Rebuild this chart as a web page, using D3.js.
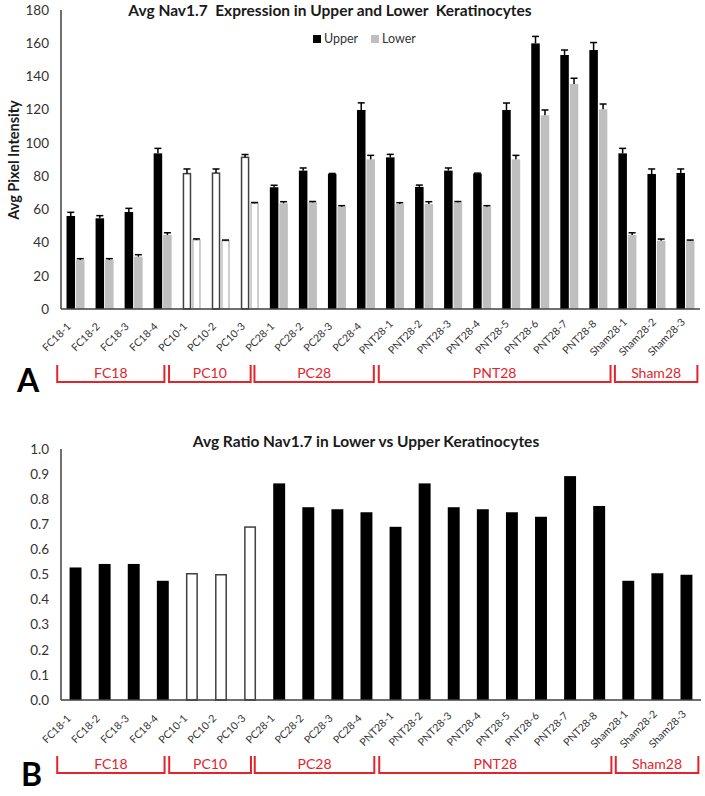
<!DOCTYPE html>
<html>
<head>
<meta charset="utf-8">
<script src="https://cdn.jsdelivr.net/npm/d3@7"></script>
<style>
  html, body { margin: 0; padding: 0; background: #fff; }
  svg { display: block; font-family: Lato, 'Open Sans', sans-serif; }
  text.pre { white-space: pre; }
</style>
</head>
<body>
<svg id="chart" width="705" height="796"></svg>
<script>
// sample names, grouped as in the figure
const cats = ['FC18-1','FC18-2','FC18-3','FC18-4','PC10-1','PC10-2','PC10-3',
  'PC28-1','PC28-2','PC28-3','PC28-4',
  'PNT28-1','PNT28-2','PNT28-3','PNT28-4','PNT28-5','PNT28-6','PNT28-7','PNT28-8',
  'Sham28-1','Sham28-2','Sham28-3'];
const hollowCats = ['PC10-1','PC10-2','PC10-3'];

// panel A: avg pixel intensity (+ error, drawn upward only)
const upper    = [56, 54.6, 58.4, 93.7, 81.5, 81.8, 91.3, 73.3, 83.3, 81.3, 119.8,
  91.3, 73.5, 83.3, 81.5, 119.8, 159.9, 152.9, 155.9, 93.7, 81.3, 81.9];
const upperErr = [2.2, 1.6, 2.2, 3, 2.8, 2.5, 1.7, 1.2, 1.6, 0.3, 4.3,
  1.8, 1.1, 1.6, 0.3, 4.2, 4.2, 3, 4.5, 3, 3, 2.4];
const lower    = [29.5, 29.5, 31.5, 44.6, 41.5, 41.1, 63.6, 63.6, 64.2, 61.6, 90.1,
  63.2, 63.2, 64.2, 61.6, 90.1, 116.6, 135.5, 120.2, 44.6, 41.1, 41.1];
const lowerErr = [0.8, 0.8, 1.2, 1.3, 0.7, 0.4, 0.5, 1, 0.5, 0.6, 2.4,
  0.8, 1.4, 0.5, 0.6, 2.4, 3.2, 3.4, 3.2, 1.3, 1, 0.4];
const seriesNames = ['Upper', 'Lower'];
const ticksA = [0, 20, 40, 60, 80, 100, 120, 140, 160, 180];

// panel B: ratio lower / upper
const ratio = [0.528, 0.542, 0.542, 0.475, 0.503, 0.499, 0.689, 0.863, 0.768, 0.760, 0.748,
  0.690, 0.863, 0.768, 0.760, 0.748, 0.730, 0.892, 0.773, 0.475, 0.505, 0.499];
const ticksB = [0, 0.1, 0.2, 0.3, 0.4, 0.5, 0.6, 0.7, 0.8, 0.9, 1.0];

// red group brackets, start/end in category units (category i spans i..i+1)
const groupNames = ['FC18', 'PC10', 'PC28', 'PNT28', 'Sham28'];
const groupStart = [-0.13, 3.72, 6.66, 10.94, 19.07];
const groupEnd   = [3.56, 6.53, 10.77, 18.92, 21.91];

const RED = '#e3242b', GREY = '#bfbfbf', AXIS = '#404040', TXT = '#333';
const svg = d3.select('#chart');

function frame(cfg) {
  const g = svg.append('g');
  const y = d3.scaleLinear().domain(cfg.domain).range([cfg.bottom, cfg.top]);
  const pos = d3.scaleLinear().domain([0, cats.length]).range([cfg.left, cfg.right]);

  // y tick labels (no tick marks, no grid)
  g.selectAll('.yt').data(cfg.ticks).enter().append('text')
    .attr('x', cfg.left - 12).attr('y', d => y(d)).attr('dy', '0.35em')
    .attr('text-anchor', 'end').style('font-size', '13.5px').style('fill', TXT)
    .text(cfg.fmt);

  // rotated category labels, centred a little left of each category
  g.selectAll('.xt').data(cats).enter().append('text')
    .attr('x', (d, i) => pos(i + 0.5) - 19)
    .attr('y', cfg.bottom + cfg.labelOff)
    .attr('transform', (d, i) => `rotate(-45 ${pos(i + 0.5) - 19} ${cfg.bottom + cfg.labelOff})`)
    .attr('text-anchor', 'middle').attr('dy', '0.35em')
    .style('font-size', '10.5px').style('fill', TXT).text(d => d);

  // group brackets
  const bTop = cfg.bottom + 56, bBot = cfg.bottom + 73;
  groupNames.forEach((name, k) => {
    const a = pos(groupStart[k]), b = pos(groupEnd[k]);
    g.append('path')
      .attr('d', `M${a},${bTop}V${bBot}H${b}V${bTop}`)
      .attr('fill', 'none').attr('stroke', RED).attr('stroke-width', 2);
    g.append('text').attr('x', (a + b) / 2).attr('y', bBot - 4)
      .attr('text-anchor', 'middle').style('font-size', '14px').style('fill', RED).text(name);
  });

  g.append('text').attr('class', 'pre').attr('x', cfg.title[0]).attr('y', cfg.title[1]).attr('text-anchor', 'middle')
    .style('font-size', '15.5px').style('font-weight', 700).style('fill', '#1a1a1a').text(cfg.titleText);

  g.append('text').attr('x', cfg.letter[0]).attr('y', cfg.letter[1])
    .style('font-size', '32px').style('font-weight', 700).style('fill', '#000').text(cfg.letterText);

  return { g, y };
}

function axisLines(g, cfg) {
  g.append('line').attr('x1', cfg.left).attr('x2', cfg.left).attr('y1', cfg.top).attr('y2', cfg.bottom)
    .attr('stroke', AXIS).attr('stroke-width', 1.5);
  g.append('line').attr('x1', cfg.left).attr('x2', cfg.right).attr('y1', cfg.bottom).attr('y2', cfg.bottom)
    .attr('stroke', AXIS).attr('stroke-width', 1.5);
}

// ---------- Panel A ----------
const cfgA = { left: 61, right: 700, top: 10, bottom: 309, domain: [0, 180], ticks: ticksA,
  fmt: d => d, labelOff: 28, title: [330, 16],
  titleText: 'Avg Nav1.7  Expression in Upper and Lower  Keratinocytes',
  letter: [17, 392], letterText: 'A' };
const A = frame(cfgA);

const x0 = d3.scaleBand().domain(cats).range([cfgA.left, cfgA.right]).paddingInner(0.38).paddingOuter(0.19);
const x1 = d3.scaleBand().domain(seriesNames).range([0, x0.bandwidth()]).paddingInner(0.1);

const rows = cats.map((c, i) => ({ c, hollow: hollowCats.includes(c), vals: [
  { s: 'Upper', v: upper[i], e: upperErr[i] },
  { s: 'Lower', v: lower[i], e: lowerErr[i] }] }));

const grp = A.g.selectAll('.grp').data(rows).enter().append('g')
  .attr('transform', d => `translate(${x0(d.c)},0)`);

grp.selectAll('rect').data(d => d.vals.map(v => ({ ...v, hollow: d.hollow }))).enter().append('rect')
  .attr('x', d => x1(d.s) + (d.hollow ? 0.75 : 0))
  .attr('width', d => x1.bandwidth() - (d.hollow ? 1.5 : 0))
  .attr('y', d => A.y(d.v))
  .attr('height', d => cfgA.bottom - A.y(d.v))
  .attr('fill', d => d.hollow ? '#fff' : (d.s === 'Upper' ? '#000' : GREY))
  .attr('stroke', d => d.hollow ? (d.s === 'Upper' ? '#404040' : GREY) : 'none')
  .attr('stroke-width', 1.5);

// error bars (plus direction only)
const eb = grp.selectAll('.eb').data(d => d.vals).enter().append('g');
eb.append('line')
  .attr('x1', d => x1(d.s) + x1.bandwidth() / 2).attr('x2', d => x1(d.s) + x1.bandwidth() / 2)
  .attr('y1', d => A.y(d.v)).attr('y2', d => A.y(d.v + d.e))
  .attr('stroke', '#000').attr('stroke-width', 1.5);
eb.append('line')
  .attr('x1', d => x1(d.s) + x1.bandwidth() / 2 - 3.5).attr('x2', d => x1(d.s) + x1.bandwidth() / 2 + 3.5)
  .attr('y1', d => A.y(d.v + d.e)).attr('y2', d => A.y(d.v + d.e))
  .attr('stroke', '#000').attr('stroke-width', 1.5);

axisLines(A.g, cfgA);

// y axis title
A.g.append('text').attr('transform', 'translate(19,160) rotate(-90)').attr('text-anchor', 'middle')
  .style('font-size', '14.5px').style('font-weight', 700).style('fill', '#1a1a1a').text('Avg Pixel Intensity');

// legend
const leg = A.g.append('g').attr('transform', 'translate(313,34)');
seriesNames.forEach((s, i) => {
  const lx = i * 58;
  leg.append('rect').attr('x', lx).attr('y', 1).attr('width', 8).attr('height', 8)
    .attr('fill', s === 'Upper' ? '#000' : GREY);
  leg.append('text').attr('x', lx + 11).attr('y', 5).attr('dy', '0.35em')
    .style('font-size', '12.5px').style('fill', TXT).text(s);
});

// ---------- Panel B ----------
const cfgB = { left: 61, right: 701, top: 449, bottom: 700, domain: [0, 1], ticks: ticksB,
  fmt: d3.format('.1f'), labelOff: 29, title: [366, 447],
  titleText: 'Avg Ratio Nav1.7 in Lower vs Upper Keratinocytes',
  letter: [21, 786], letterText: 'B' };
const B = frame(cfgB);

const xb = d3.scaleBand().domain(cats).range([cfgB.left, cfgB.right]).paddingInner(0.59).paddingOuter(0.295);

B.g.selectAll('.rb').data(cats).enter().append('rect')
  .attr('x', d => xb(d) + (hollowCats.includes(d) ? 0.75 : 0))
  .attr('width', d => xb.bandwidth() - (hollowCats.includes(d) ? 1.5 : 0))
  .attr('y', (d, i) => B.y(ratio[i]))
  .attr('height', (d, i) => cfgB.bottom - B.y(ratio[i]))
  .attr('fill', d => hollowCats.includes(d) ? '#fff' : '#000')
  .attr('stroke', d => hollowCats.includes(d) ? '#404040' : 'none')
  .attr('stroke-width', 1.5);

axisLines(B.g, cfgB);
</script>
</body>
</html>
